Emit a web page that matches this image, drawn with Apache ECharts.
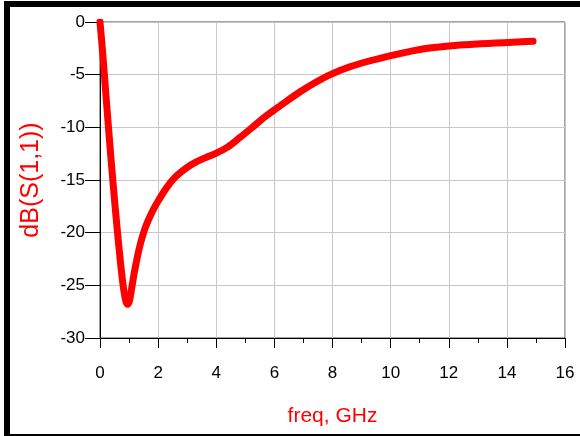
<!DOCTYPE html>
<html>
<head>
<meta charset="utf-8">
<script src="https://cdn.jsdelivr.net/npm/echarts@6/dist/echarts.min.js"></script>
<style>
html,body{margin:0;padding:0;background:#fff;}
#c{width:580px;height:436px;}
</style>
</head>
<body>
<div id="c"></div>
<script>
const freq = [0, 0.1, 0.2, 0.3, 0.4, 0.5, 0.6, 0.7, 0.8, 0.88, 0.95, 1.02, 1.1, 1.2, 1.35, 1.55, 1.8, 2.0, 2.3, 2.6, 3.0, 3.3, 3.7, 4.0, 4.4, 4.8, 5.2, 5.7, 6.2, 6.9, 7.5, 8.0, 8.6, 9.2, 9.7, 10.2, 10.8, 11.4, 12.0, 12.6, 13.1, 13.6, 14.2, 14.9];
const s11 = [0, -3.2, -6.8, -10.3, -13.7, -16.9, -19.9, -22.7, -25.1, -26.4, -26.8, -26.4, -25.1, -23.5, -21.5, -19.6, -18.0, -17.0, -15.7, -14.7, -13.8, -13.3, -12.8, -12.45, -11.85, -11.0, -10.1, -8.95, -7.95, -6.6, -5.6, -4.9, -4.25, -3.75, -3.4, -3.08, -2.72, -2.45, -2.27, -2.15, -2.07, -2.0, -1.93, -1.82];
const xTicks = {min: 0, max: 16, interval: 2};
const yTicks = {min: -30, max: 0, interval: 5};
const xName = 'freq, GHz';
const yName = 'dB(S(1,1))';

const data = freq.map((f, i) => [f, s11[i]]);
const chart = echarts.init(document.getElementById('c'), null, {renderer: 'canvas'});
const font = 'Liberation Sans, Arial, sans-serif';
chart.setOption({
  animation: false,
  backgroundColor: '#fff',
  grid: {left: 100, right: 15, top: 22, bottom: 98, show: true, borderColor: '#444', borderWidth: 1},
  graphic: [
    {type: 'rect', shape: {x: 4, y: 1, width: 576, height: 6}, style: {fill: '#000'}},
    {type: 'rect', shape: {x: 4, y: 1, width: 6, height: 435}, style: {fill: '#000'}},
    {type: 'rect', shape: {x: 4, y: 434, width: 576, height: 2}, style: {fill: '#000'}}
  ],
  xAxis: {
    type: 'value', min: xTicks.min, max: xTicks.max, interval: xTicks.interval,
    name: xName, nameLocation: 'middle', nameGap: 68,
    nameTextStyle: {color: '#ff0000', fontSize: 21, fontFamily: font},
    axisLine: {show: true, onZero: false, lineStyle: {color: '#000', width: 1}},
    axisTick: {show: true, inside: false, length: 10, lineStyle: {color: '#000'}},
    minorTick: {show: true, splitNumber: 2, length: 5, lineStyle: {color: '#000'}},
    axisLabel: {color: '#000', fontSize: 17, fontFamily: font, margin: 27},
    splitLine: {show: true, lineStyle: {color: '#c8c8c8', width: 1}}
  },
  yAxis: {
    type: 'value', min: yTicks.min, max: yTicks.max, interval: yTicks.interval,
    name: yName, nameLocation: 'middle', nameGap: 56, nameRotate: 90,
    nameTextStyle: {color: '#ff0000', fontSize: 25, fontFamily: font},
    axisLine: {show: true, onZero: false, lineStyle: {color: '#000', width: 1}},
    axisTick: {show: true, inside: false, length: 15, lineStyle: {color: '#000'}},
    axisLabel: {color: '#000', fontSize: 17, fontFamily: font, margin: 15},
    splitLine: {show: true, lineStyle: {color: '#c8c8c8', width: 1}}
  },
  series: [{
    type: 'line', data: data, smooth: 0.3, showSymbol: false, symbol: 'none',
    lineStyle: {color: '#ff0000', width: 7, cap: 'round', join: 'round'}
  }]
});
</script>
</body>
</html>
